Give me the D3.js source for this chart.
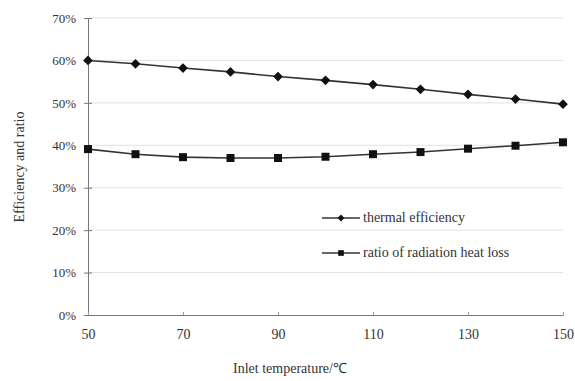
<!DOCTYPE html>
<html>
<head>
<meta charset="utf-8">
<script src="https://cdn.jsdelivr.net/npm/d3@7"></script>
<style>
  body { margin: 0; background: #fff; }
  text { font-family: "Liberation Serif", "Times New Roman", serif; fill: #333; }
</style>
</head>
<body>
<div id="root"></div>
<script>
const temps = [50, 60, 70, 80, 90, 100, 110, 120, 130, 140, 150];
const thermalEff = [60.0, 59.2, 58.2, 57.3, 56.2, 55.3, 54.3, 53.2, 52.0, 50.9, 49.7];
const radLossRatio = [39.1, 37.9, 37.2, 37.0, 37.0, 37.3, 37.9, 38.4, 39.2, 39.9, 40.7];
const xTicks = [50, 70, 90, 110, 130, 150];
const yTicks = [0, 10, 20, 30, 40, 50, 60, 70];

const width = 575;
const height = 381;
const m = { left: 88, right: 12, top: 18, bottom: 66 };

const xScale = d3.scaleLinear().domain([50, 150]).range([m.left, width - m.right]);
const yScale = d3.scaleLinear().domain([0, 70]).range([height - m.bottom, m.top]);

const svg = d3.select("#root").append("svg")
  .attr("width", width)
  .attr("height", height);

// gridlines
svg.append("g")
  .selectAll("line")
  .data(yTicks.slice(1))
  .enter()
  .append("line")
  .attr("x1", m.left)
  .attr("x2", width - m.right)
  .attr("y1", (d) => yScale(d))
  .attr("y2", (d) => yScale(d))
  .attr("stroke", "#e2e2e2")
  .attr("stroke-width", 1);

// y axis
const yAxis = d3.axisLeft(yScale)
  .tickValues(yTicks)
  .tickFormat((d) => d + "%")
  .tickSizeInner(4)
  .tickSizeOuter(0)
  .tickPadding(8);
const gy = svg.append("g")
  .attr("transform", `translate(${m.left},0)`)
  .call(yAxis);
gy.select(".domain").attr("stroke", "#777");
gy.selectAll(".tick line").attr("stroke", "#777").attr("x2", 4).attr("x1", -4);
gy.selectAll(".tick text").style("font-size", "13px").attr("fill", "#444");

// x axis
const xAxis = d3.axisBottom(xScale)
  .tickValues(xTicks)
  .tickSizeInner(-3)
  .tickSizeOuter(0)
  .tickPadding(14);
const gx = svg.append("g")
  .attr("transform", `translate(0,${height - m.bottom})`)
  .call(xAxis);
gx.select(".domain").attr("stroke", "#777");
gx.selectAll(".tick line").attr("stroke", "#999");
gx.selectAll(".tick text").style("font-size", "14px").attr("fill", "#444");

// axis titles
svg.append("text")
  .attr("x", 290)
  .attr("y", 373)
  .attr("text-anchor", "middle")
  .style("font-size", "14px")
  .attr("fill", "#444")
  .text("Inlet temperature/℃");

svg.append("text")
  .attr("transform", "translate(24,167) rotate(-90)")
  .attr("text-anchor", "middle")
  .style("font-size", "14px")
  .attr("fill", "#444")
  .text("Efficiency and ratio");

// lines
const line = d3.line()
  .x((d, i) => xScale(temps[i]))
  .y((d) => yScale(d));

const series = [
  { name: "thermal efficiency", values: thermalEff, symbol: d3.symbolDiamond2, size: 60 },
  { name: "ratio of radiation heat loss", values: radLossRatio, symbol: d3.symbolSquare, size: 64 }
];

series.forEach((s) => {
  svg.append("path")
    .datum(s.values)
    .attr("fill", "none")
    .attr("stroke", "#333")
    .attr("stroke-width", 1.6)
    .attr("d", line);
  svg.append("g")
    .selectAll("path")
    .data(s.values)
    .enter()
    .append("path")
    .attr("d", d3.symbol().type(s.symbol).size(s.size))
    .attr("transform", (d, i) => `translate(${xScale(temps[i])},${yScale(d)})`)
    .attr("fill", "#111");
});

// legend
const legend = svg.append("g");
series.forEach((s, i) => {
  const y = 218 + i * 35;
  legend.append("line")
    .attr("x1", 322).attr("x2", 360)
    .attr("y1", y).attr("y2", y)
    .attr("stroke", "#333").attr("stroke-width", 1.6);
  legend.append("path")
    .attr("d", d3.symbol().type(s.symbol).size(s.size * 0.5))
    .attr("transform", `translate(341,${y})`)
    .attr("fill", "#111");
  legend.append("text")
    .attr("x", 363)
    .attr("y", y + 4)
    .style("font-size", "14px")
    .attr("fill", "#444")
    .text(s.name);
});
</script>
</body>
</html>
